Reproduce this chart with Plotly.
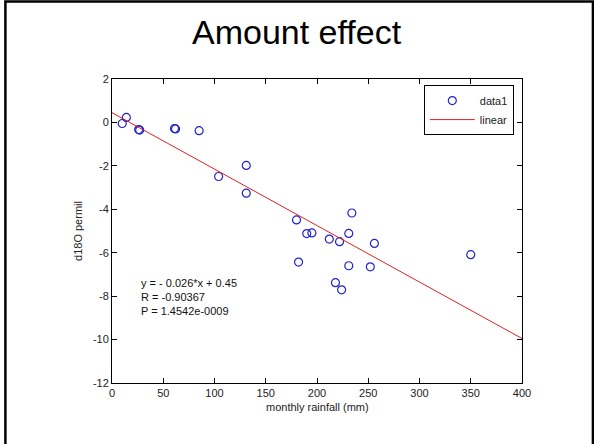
import plotly.graph_objects as go

# Data
rainfall = [10, 14, 26, 27, 61, 62, 85, 104, 131, 131, 180, 182, 190, 195,
            212, 222, 231, 231, 234, 252, 256, 218, 224, 350]
d18o = [-0.05, 0.23, -0.33, -0.35, -0.28, -0.30, -0.38, -2.49, -1.98, -3.26,
        -4.49, -6.43, -5.12, -5.09, -5.37, -5.49, -5.11, -6.60, -4.17, -6.65,
        -5.57, -7.38, -7.71, -6.09]
slope = -0.026
intercept = 0.45
fit_x = [0, 400]
fit_y = [slope * v + intercept for v in fit_x]

x_ticks = [0, 50, 100, 150, 200, 250, 300, 350, 400]
x_labels = ["0", "50", "100", "150", "200", "250", "300", "350", "400"]
y_ticks = [2, 0, -2, -4, -6, -8, -10, -12]
y_labels = ["2", "0", "-2", "-4", "-6", "-8", "-10", "-12"]
stats_lines = ["y = - 0.026*x + 0.45", "R = -0.90367", "P = 1.4542e-0009"]

fig = go.Figure()
fig.add_trace(go.Scatter(
    x=rainfall, y=d18o, mode="markers", name="data1",
    marker=dict(symbol="circle-open", size=8, color="#2222cc", line=dict(width=1.2)),
))
fig.add_trace(go.Scatter(
    x=fit_x, y=fit_y, mode="lines", name="linear",
    line=dict(color="#dd2222", width=1),
))

axis_common = dict(
    showline=True, linecolor="black", linewidth=1, mirror="ticks",
    ticks="inside", ticklen=5, tickcolor="black", showgrid=False, zeroline=False,
    tickfont=dict(family="Liberation Sans, Arial", size=11, color="#222"),
)
fig.update_xaxes(range=[0, 400], tickvals=x_ticks, ticktext=x_labels, **axis_common)
fig.update_yaxes(range=[-12, 2], tickvals=y_ticks, ticktext=y_labels, **axis_common)

for i, t in enumerate(stats_lines):
    fig.add_annotation(x=26, y=-7.38 - i * 0.66, text=t, showarrow=False,
                       xanchor="left", yanchor="middle",
                       font=dict(family="Liberation Sans, Arial", size=11, color="#111"))

fig.add_annotation(xref="paper", yref="paper", x=0.451, y=1.155, text="Amount effect",
                   showarrow=False, xanchor="center", yanchor="middle",
                   font=dict(family="Liberation Sans, Arial", size=34, color="black"))
fig.add_annotation(xref="paper", yref="paper", x=0.5, y=-0.08, text="monthly rainfall (mm)",
                   showarrow=False, xanchor="center", yanchor="middle",
                   font=dict(family="Liberation Sans, Arial", size=11, color="#222"))
fig.add_annotation(xref="paper", yref="paper", x=-0.083, y=0.5, text="d18O permil",
                   showarrow=False, textangle=-90, xanchor="center", yanchor="middle",
                   font=dict(family="Liberation Sans, Arial", size=11, color="#222"))

# outer slide frame
fig.add_shape(type="rect", xref="paper", yref="paper",
              x0=-0.26, x1=1.173, y0=-0.25, y1=1.255,
              line=dict(color="black", width=2.5))

fig.update_layout(
    width=594, height=444,
    margin=dict(l=112, r=72, t=79, b=61),
    paper_bgcolor="white", plot_bgcolor="white",
    showlegend=True,
    legend=dict(x=0.98, y=0.98, xanchor="right", yanchor="top",
                bordercolor="black", borderwidth=1, bgcolor="white",
                font=dict(family="Liberation Sans, Arial", size=11, color="#222"),
                tracegroupgap=0, itemwidth=45),
)

fig.write_html("out.html", config={"displayModeBar": False},
               post_script="document.body.style.margin='0';")
